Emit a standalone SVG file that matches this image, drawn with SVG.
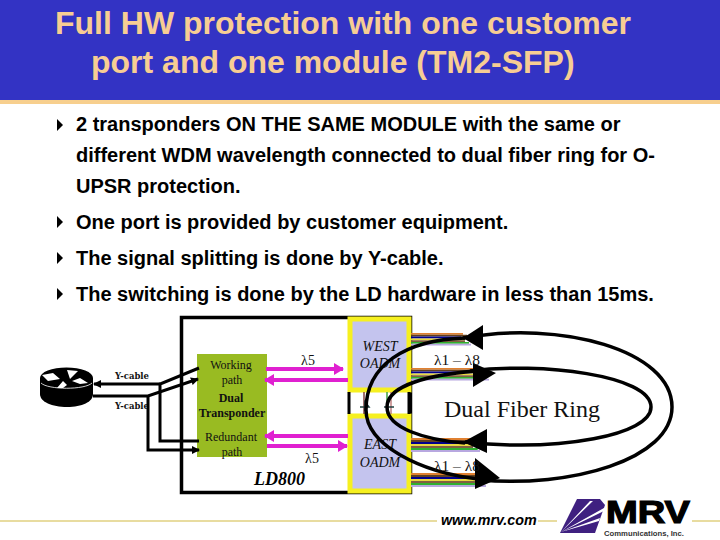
<svg xmlns="http://www.w3.org/2000/svg" width="720" height="540" viewBox="0 0 720 540">
<style>
.t{font-family:"Liberation Sans",Arial,sans-serif;font-weight:bold;font-size:20px;fill:#000}
.h{font-family:"Liberation Sans",Arial,sans-serif;font-weight:bold;font-size:32px;fill:#f7cd93}
.s{font-family:"Liberation Serif","Times New Roman",serif;fill:#111}
.g{font-family:"DejaVu Serif","Liberation Serif",serif;font-size:8.500px;font-weight:bold;fill:#111}
.k{fill:none;stroke:#000;stroke-width:3}
.m{fill:none;stroke:#e020d0;stroke-width:4}
.r{fill:none;stroke:#000;stroke-width:3.500}
</style>
<defs>
<marker id="ak" markerUnits="userSpaceOnUse" markerWidth="8" markerHeight="8" refX="7" refY="4" orient="auto"><path d="M0 0L8 4L0 8Z" fill="#000"/></marker>
<marker id="am" markerUnits="userSpaceOnUse" markerWidth="10" markerHeight="12" refX="9" refY="6" orient="auto"><path d="M0 0L10 6L0 12Z" fill="#e020d0"/></marker>
<polygon id="bu" points="0,0 6,6 0,12" fill="#000"/>
<g id="fib">
<path d="M0 1H52" stroke="#e08030" stroke-width="2"/>
<path d="M0 3H56" stroke="#604020" stroke-width="2"/>
<path d="M0 5H50" stroke="#000090" stroke-width="2"/>
<path d="M0 7H54" stroke="#e8d840" stroke-width="2"/>
<path d="M0 9H54" stroke="#806040" stroke-width="2"/>
<path d="M0 11H58" stroke="#30b030" stroke-width="2"/>
<path d="M0 13H60" stroke="#b8a8e0" stroke-width="2"/>
</g>
</defs>
<rect width="720" height="100" fill="#3333c4"/>
<rect y="100" width="720" height="4" fill="#f7cf8e"/>
<text class="h" x="55" y="34">Full HW protection with one customer</text>
<text class="h" x="91" y="73">port and one module (TM2-SFP)</text>

<use href="#bu" x="57" y="119"/>
<text class="t" x="76" y="131">2 transponders ON THE SAME MODULE with the same or</text>
<text class="t" x="76" y="162">different WDM wavelength connected to dual fiber ring for O-</text>
<text class="t" x="76" y="193">UPSR protection.</text>
<use href="#bu" x="57" y="216"/>
<text class="t" x="76" y="229">One port is provided by customer equipment.</text>
<use href="#bu" x="57" y="252"/>
<text class="t" x="76" y="265">The signal splitting is done by Y-cable.</text>
<use href="#bu" x="57" y="288"/>
<text class="t" x="76" y="301">The switching is done by the LD hardware in less than 15ms.</text>

<g id="ld800">
<rect x="181.500" y="317.500" width="229" height="175" fill="#fff" stroke="#000" stroke-width="3.500"/>
<text x="254" y="485" font-family="'Liberation Serif',serif" font-style="italic" font-weight="bold" font-size="18" fill="#000">LD800</text>
</g>
<g id="router">
<path d="M40 378V394C40 402 52 407 67 407C82 407 93 402 93 394V378Z" fill="#000"/>
<ellipse cx="66.500" cy="378" rx="26.500" ry="10.500" fill="#000"/>
<path d="M41 383C48 390 85 390 92 383" fill="none" stroke="#fff" stroke-width=".8"/>
<path d="M42 375L53 373L60 379L48 381ZM67 370L78 371L70 379ZM72 381L80 378L88 383L80 384ZM57 388L63 381L67 385L63 388Z" fill="#fff"/>
<text class="g" x="115" y="379">Y-cable</text>
<text class="g" x="115" y="409">Y-cable</text>
</g>
<g id="transponder">
<rect x="197" y="354" width="70" height="103" fill="#99bb22"/>
<text class="s" x="231" y="369" text-anchor="middle" font-size="12">Working</text>
<text class="s" x="232" y="384" text-anchor="middle" font-size="12">path</text>
<text class="s" x="231" y="402" text-anchor="middle" font-size="12" font-weight="bold">Dual</text>
<text class="s" x="232" y="417" text-anchor="middle" font-size="12" font-weight="bold">Transponder</text>
<text class="s" x="231" y="441" text-anchor="middle" font-size="12">Redundant</text>
<text class="s" x="232" y="456" text-anchor="middle" font-size="12">path</text>
</g>
<g id="west-oadm">
<rect x="350" y="319" width="59" height="71" fill="#c4c4ee" stroke="#f6f020" stroke-width="5"/>
<text class="s" x="380" y="351" text-anchor="middle" font-size="14" font-style="italic">WEST</text>
<text class="s" x="380" y="368" text-anchor="middle" font-size="14" font-style="italic">OADM</text>
</g>
<g id="east-oadm">
<rect x="350" y="416" width="59" height="75" fill="#c4c4ee" stroke="#f6f020" stroke-width="5"/>
<text class="s" x="380" y="449" text-anchor="middle" font-size="14" font-style="italic">EAST</text>
<text class="s" x="380" y="467" text-anchor="middle" font-size="14" font-style="italic">OADM</text>
</g>
<g id="connectors">
<path class="k" d="M160 384H94" marker-end="url(#ak)"/>
<path class="k" d="M199 368L160 384V441H199"/>
<path class="k" d="M93 396H148L198 379" marker-end="url(#ak)"/>
<path class="k" d="M148 396V450H199" marker-end="url(#ak)"/>
<path class="m" d="M266 369H343" marker-end="url(#am)"/>
<path class="m" d="M348 380H265" marker-end="url(#am)"/>
<path class="m" d="M348 436H265" marker-end="url(#am)"/>
<path class="m" d="M267 446H347" marker-end="url(#am)"/>
<path d="M349 392V414M409 392V414" stroke="#000" stroke-width="3" fill="none"/>
<path d="M364 392V414" stroke="#804040" stroke-width="1.500" fill="none"/>
<path d="M387 392V414" stroke="#40a040" stroke-width="1.500" fill="none"/>
<path d="M391 392V414" stroke="#a04040" stroke-width="1" fill="none"/>
<path d="M360 407H369L365 402V411M384 407H394" stroke="#204040" stroke-width="1.500" fill="none"/>
<use href="#fib" transform="translate(411 333) scale(1 .9)"/>
<use href="#fib" transform="translate(411 368) scale(1.300 .9)"/>
<use href="#fib" transform="translate(411 438)  scale(1.150 1)"/>
<use href="#fib" transform="translate(411 473) scale(1.250 1)"/>
<path class="r" d="M465 338C405 340 366 365 366 410C366 445 420 472 478 479"/>
<path class="r" d="M463 338C560 320 672 350 672 407C672 460 570 488 480 480"/>
<path class="r" d="M475 371C430 375 387 385 387 407C387 428 425 440 465 443"/>
<path class="r" d="M470 371C540 362 651 375 651 407C651 435 560 452 465 442"/>
<polygon points="463,338 483,325 483,350" fill="#000"/>
<polygon points="496,373 473,363 473,387" fill="#000"/>
<polygon points="463,442 487,429 487,453" fill="#000"/>
<polygon points="500,478 475,458 475,489" fill="#000"/>
</g>
<g id="labels">
<text class="s" x="308" y="365" text-anchor="middle" font-size="14">λ5</text>
<text class="s" x="312" y="463" text-anchor="middle" font-size="14">λ5</text>
<text class="s" x="457" y="365" text-anchor="middle" font-size="15.500">λ1 – λ8</text>
<text class="s" x="457" y="471" text-anchor="middle" font-size="15.500">λ1 – λ8</text>
<text class="s" x="522" y="417" text-anchor="middle" font-size="24">Dual Fiber Ring</text>
</g>
<g id="footer">
<rect y="520" width="437" height="2" fill="#e8dca0"/>
<rect x="538" y="520" width="19" height="2" fill="#e8dca0"/>
<rect x="692" y="520" width="28" height="2" fill="#e8dca0"/>
<text x="441" y="525" font-family="'Liberation Sans',sans-serif" font-weight="bold" font-style="italic" font-size="14.300" fill="#000">www.mrv.com</text>
<path d="M577 499H600L605 505L595 533H560Z" fill="#3f2080"/>
<path d="M561 532L590 501L593 501ZM561 532L604 508L604 511ZM561 532L600 518L599 521Z" fill="#fff"/>
<text x="606" y="523" font-family="'Liberation Sans',sans-serif" font-weight="bold" font-size="32" stroke="#000" stroke-width="1.200" fill="#000" textLength="84" lengthAdjust="spacingAndGlyphs">MRV</text>
<text x="604" y="536" font-family="'Liberation Sans',sans-serif" font-weight="bold" font-size="7" fill="#333" textLength="80" lengthAdjust="spacingAndGlyphs">Communications, Inc.</text>
</g>
</svg>
